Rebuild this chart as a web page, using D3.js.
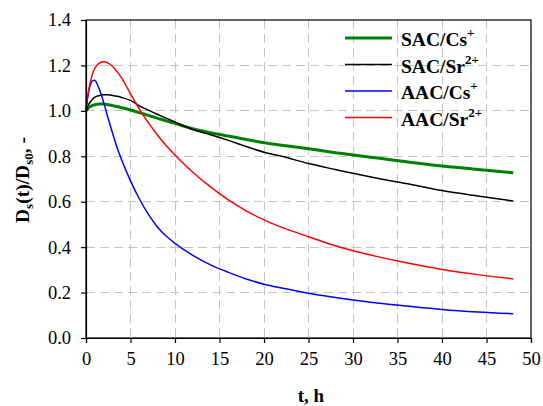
<!DOCTYPE html>
<html>
<head>
<meta charset="utf-8">
<script src="https://cdn.jsdelivr.net/npm/d3@7"></script>
</head>
<body style="margin:0;padding:0;background:#fff">
<svg id="chart" width="543" height="406" style="display:block"></svg>
<script>
// ---- data ----
const times = [0, 0.25, 0.5, 0.75, 1, 1.5, 2, 2.5, 3, 3.5, 4, 5, 6, 7, 8, 9, 10, 12, 14, 16, 18, 20, 22, 25, 28, 30, 33, 36, 40, 44, 48];
const sacCs = [1.000, 1.012, 1.019, 1.024, 1.027, 1.030, 1.030, 1.027, 1.023, 1.019, 1.014, 1.004, 0.992, 0.980, 0.968, 0.956, 0.945, 0.921, 0.904, 0.889, 0.874, 0.860, 0.849, 0.833, 0.816, 0.806, 0.791, 0.776, 0.757, 0.742, 0.727];
const sacSr = [1.000, 1.025, 1.040, 1.052, 1.060, 1.068, 1.071, 1.071, 1.068, 1.064, 1.059, 1.046, 1.022, 1.003, 0.985, 0.968, 0.951, 0.918, 0.895, 0.870, 0.843, 0.818, 0.800, 0.768, 0.742, 0.725, 0.701, 0.680, 0.649, 0.625, 0.603];
const aacCs = [1.000, 1.075, 1.115, 1.133, 1.134, 1.095, 1.035, 0.965, 0.900, 0.838, 0.785, 0.692, 0.612, 0.545, 0.490, 0.449, 0.417, 0.364, 0.322, 0.289, 0.260, 0.237, 0.220, 0.197, 0.178, 0.167, 0.153, 0.141, 0.126, 0.115, 0.107];
const aacSr = [1.000, 1.080, 1.128, 1.165, 1.188, 1.210, 1.216, 1.210, 1.195, 1.172, 1.145, 1.075, 1.008, 0.948, 0.895, 0.848, 0.806, 0.730, 0.665, 0.608, 0.560, 0.520, 0.487, 0.446, 0.406, 0.384, 0.356, 0.331, 0.302, 0.279, 0.260];

const seriesNames = ["SAC/Cs", "SAC/Sr", "AAC/Cs", "AAC/Sr"];
const seriesCharges = ["+", "2+", "+", "2+"];
const seriesValues = [sacCs, sacSr, aacCs, aacSr];
const seriesColors = ["#008000", "#000000", "#0000ff", "#ff0000"];
const seriesWidths = [3, 1.5, 1.5, 1.5];

const xTicks = [0, 5, 10, 15, 20, 25, 30, 35, 40, 45, 50];
const yTicks = [0, 0.2, 0.4, 0.6, 0.8, 1.0, 1.2, 1.4];

// ---- layout ----
const st = (size, bold) => `font-family:'Liberation Serif';font-size:${size}px` + (bold ? ";font-weight:bold" : "");
const svg = d3.select("#chart");
const L = 86, R = 531, T = 20, B = 338;
const x = d3.scaleLinear().domain([0, 50]).range([L, R]);
const y = d3.scaleLinear().domain([0, 1.4]).range([B, T]);

// grid
const grid = svg.append("g");
grid.selectAll("line.v").data(xTicks.filter(d => d > 0 && d < 50)).enter().append("line")
  .attr("x1", d => x(d)).attr("x2", d => x(d)).attr("y1", T).attr("y2", B)
  .attr("stroke", "#c4c4c4").attr("stroke-width", 1).attr("stroke-dasharray", "9,5")
  .attr("shape-rendering", "crispEdges");
grid.selectAll("line.h").data(yTicks.filter(d => d > 0 && d < 1.4)).enter().append("line")
  .attr("x1", L).attr("x2", R).attr("y1", d => y(d)).attr("y2", d => y(d))
  .attr("stroke", "#c4c4c4").attr("stroke-width", 1).attr("stroke-dasharray", "9,5")
  .attr("shape-rendering", "crispEdges");

// lines
const line = d3.line().x(d => x(d[0])).y(d => y(d[1])).curve(d3.curveCatmullRom.alpha(0.5));
seriesValues.forEach((vals, i) => {
  svg.append("path")
    .datum(times.map((t, j) => [t, vals[j]]))
    .attr("fill", "none")
    .attr("stroke", seriesColors[i])
    .attr("stroke-width", seriesWidths[i])
    .attr("stroke-linejoin", "round")
    .attr("d", line);
});

// frame
svg.append("rect").attr("x", L).attr("y", T).attr("width", R - L).attr("height", B - T)
  .attr("fill", "none").attr("stroke", "#000").attr("stroke-width", 1.2);

// axes
const xAxis = d3.axisBottom(x).tickValues(xTicks).tickFormat(d3.format("d")).tickSize(5).tickPadding(9);
const yAxis = d3.axisLeft(y).tickValues(yTicks).tickFormat(d3.format(".1f")).tickSize(5).tickPadding(10);
const gx = svg.append("g").attr("transform", `translate(0,${B})`).call(xAxis);
const gy = svg.append("g").attr("transform", `translate(${L},0)`).call(yAxis);
[gx, gy].forEach(g => {
  g.attr("font-family", null).attr("font-size", null);
  g.select(".domain").attr("stroke", "#000").attr("stroke-width", 1.2);
  g.selectAll(".tick line").attr("stroke", "#000").attr("stroke-width", 1.2);
  g.selectAll(".tick text").attr("style", st(18.5, false)).attr("fill", "#000");
});

// axis titles
svg.append("text").attr("x", 311).attr("y", 402).attr("text-anchor", "middle")
  .attr("style", st(19, true)).text("t, h");

const yt = svg.append("text").attr("transform", "translate(29,180) rotate(-90)")
  .attr("text-anchor", "middle").attr("style", st(19.5, true));
yt.append("tspan").text("D");
yt.append("tspan").attr("style", "font-size:13px").attr("dy", 4).text("s");
yt.append("tspan").attr("dy", -4).text("(t)/D");
yt.append("tspan").attr("style", "font-size:13px").attr("dy", 4).text("s0");
yt.append("tspan").attr("dy", -4).text(", -");

// legend
const legY = [38, 64.5, 91, 117.5];
const leg = svg.append("g");
seriesNames.forEach((name, i) => {
  leg.append("line").attr("x1", 345).attr("x2", 392).attr("y1", legY[i]).attr("y2", legY[i])
    .attr("stroke", seriesColors[i]).attr("stroke-width", seriesWidths[i]);
  const t = leg.append("text").attr("x", 401).attr("y", legY[i] + 8).attr("style", st(19.5, true));
  t.append("tspan").text(name);
  t.append("tspan").attr("style", "font-size:13px").attr("dy", -9).text(seriesCharges[i]);
});
</script>
</body>
</html>
